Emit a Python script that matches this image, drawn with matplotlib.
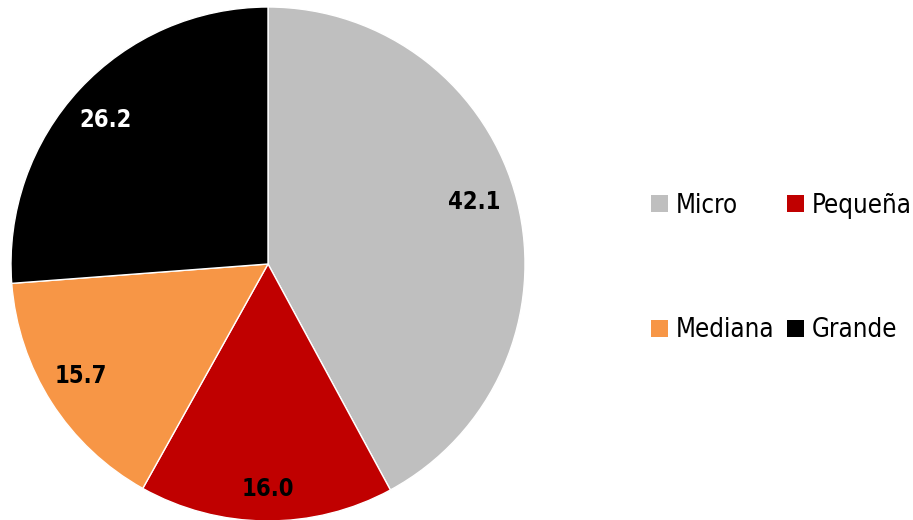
import matplotlib
matplotlib.use("Agg")
import matplotlib.pyplot as plt
import numpy as np

# Data
categories = ["Micro", "Pequeña", "Mediana", "Grande"]
values = [42.1, 16.0, 15.7, 26.2]
colors = ["#bfbfbf", "#c00000", "#f79646", "#000000"]
label_colors = ["black", "black", "black", "white"]
# label placement: radius fraction and small angle nudge (deg) from wedge middle
label_radius = [0.84, 0.877, 0.85, 0.846]
label_nudge = [2.6, 0.4, -1.8, 1.2]

plt.rcParams['font.family'] = ["DejaVu Sans"]
plt.rcParams['font.stretch'] = "condensed"

W, H = 913, 520
fig = plt.figure(figsize=(W / 100, H / 100), dpi=100)

# pie axes in pixel coords: center (268, 264), radius 257
cx, cy, r = 268, 264, 257
ax = fig.add_axes([(cx - r) / W, (H - cy - r) / H, 2 * r / W, 2 * r / H])

wedges, _ = ax.pie(values, colors=colors, startangle=90, counterclock=False,
                   wedgeprops=dict(edgecolor="white", linewidth=1))
ax.set_xlim(-1, 1)
ax.set_ylim(-1, 1)
ax.set_aspect("equal")

for w, v, c, rr, nd in zip(wedges, values, label_colors, label_radius, label_nudge):
    ang = np.deg2rad((w.theta1 + w.theta2) / 2 + nd)
    ax.text(rr * np.cos(ang), rr * np.sin(ang), f"{v:.1f}", ha="center", va="center",
            fontsize=17, fontweight="bold", color=c)

# legend fills row by row: Micro, Pequeña / Mediana, Grande
order = [0, 2, 1, 3]
leg = fig.legend([wedges[i] for i in order], [categories[i] for i in order], ncol=2,
                 loc="center left", bbox_to_anchor=(651 / W, 1 - 268 / H), frameon=False,
                 fontsize=18.5, handlelength=0.65, handleheight=0.65, borderpad=0,
                 borderaxespad=0, handletextpad=0.3, columnspacing=0.5, labelspacing=3.85)
for p in leg.get_patches():
    p.set_edgecolor("none")

fig.savefig("out.png", dpi=100)
